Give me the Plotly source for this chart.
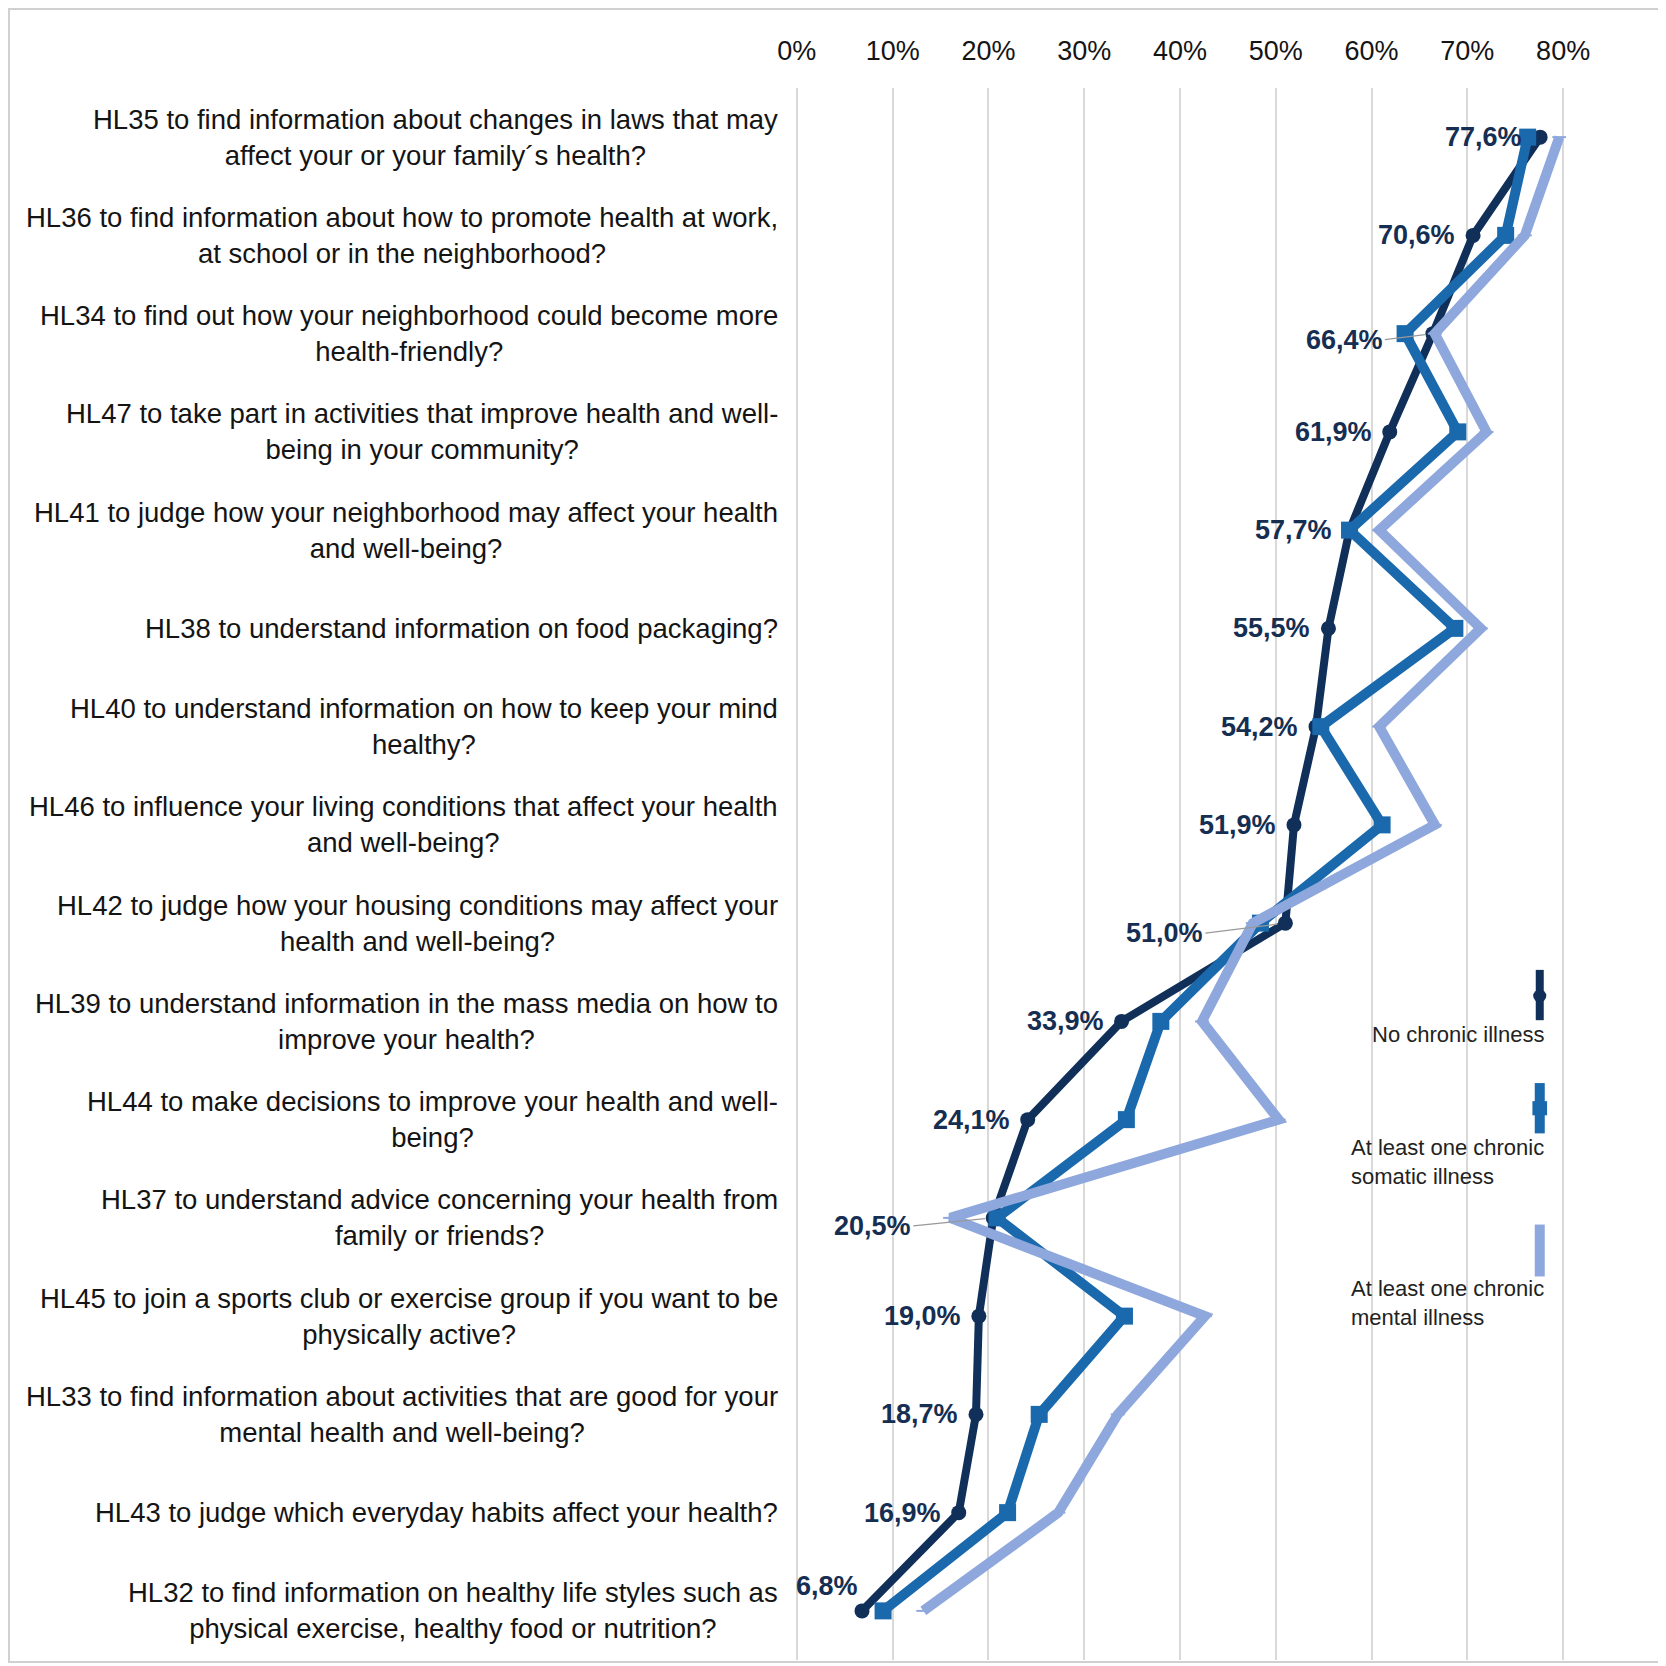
import plotly.graph_objects as go

codes = ["HL35", "HL36", "HL34", "HL47", "HL41", "HL38", "HL40", "HL46",
         "HL42", "HL39", "HL44", "HL37", "HL45", "HL33", "HL43", "HL32"]
questions = [
    "HL35 to find information about changes in laws that may<br>affect your or your family\u00b4s health?",
    "HL36 to find information about how to promote health at work,<br>at school or in the neighborhood?",
    "HL34 to find out how your neighborhood could become more<br>health-friendly?",
    "HL47 to take part in activities that improve health and well-<br>being in your community?",
    "HL41 to judge how your neighborhood may affect your health<br>and well-being?",
    "HL38 to understand information on food packaging?",
    "HL40 to understand information on how to keep your mind<br>healthy?",
    "HL46 to influence your living conditions that affect your health<br>and well-being?",
    "HL42 to judge how your housing conditions may affect your<br>health and well-being?",
    "HL39 to understand information in the mass media on how to<br>improve your health?",
    "HL44 to make decisions to improve your health and well-<br>being?",
    "HL37 to understand advice concerning your health from<br>family or friends?",
    "HL45 to join a sports club or exercise group if you want to be<br>physically active?",
    "HL33 to find information about activities that are good for your<br>mental health and well-being?",
    "HL43 to judge which everyday habits affect your health?",
    "HL32 to find information on healthy life styles such as<br>physical exercise, healthy food or nutrition?",
]

no_chronic = [77.6, 70.6, 66.4, 61.9, 57.7, 55.5, 54.2, 51.9,
              51.0, 33.9, 24.1, 20.5, 19.0, 18.7, 16.9, 6.8]
somatic = [76.3, 74.0, 63.5, 69.0, 57.7, 68.7, 54.7, 61.1,
           48.4, 38.0, 34.4, 20.9, 34.2, 25.3, 22.0, 9.0]
mental = [79.6, 76.0, 66.6, 72.0, 60.8, 71.4, 60.8, 66.6,
          47.6, 42.3, 50.3, 16.0, 42.6, 33.5, 27.3, 13.2]

x_ticks = [0, 10, 20, 30, 40, 50, 60, 70, 80]
x_ticktext = [f"{t}%" for t in x_ticks]

legend_names = ["No chronic illness",
                "At least one chronic<br>somatic illness",
                "At least one chronic<br>mental illness"]

NAVY = "#10305a"
MID = "#1a69ad"
LIGHT = "#8ea7dc"
FONT = "Liberation Sans, Arial, sans-serif"

fig = go.Figure()

fig.add_trace(go.Scatter(
    x=no_chronic, y=codes, mode="lines+markers", name=legend_names[0],
    line=dict(color=NAVY, width=8),
    marker=dict(symbol="circle", size=15, color=NAVY),
    showlegend=False,
))
fig.add_trace(go.Scatter(
    x=somatic, y=codes, mode="lines+markers", name=legend_names[1],
    line=dict(color=MID, width=10),
    marker=dict(symbol="square", size=17, color=MID),
    showlegend=False,
))
fig.add_trace(go.Scatter(
    x=mental, y=codes, mode="lines+markers", name=legend_names[2],
    line=dict(color=LIGHT, width=10),
    marker=dict(symbol="line-ew-open", size=10, color=LIGHT,
                line=dict(color=LIGHT, width=2)),
    showlegend=False,
))

annotations = []

# question texts, centred lines, right edge at the axis
for c, q in zip(codes, questions):
    annotations.append(dict(
        x=0, xref="paper", y=c, yref="y", text=q, showarrow=False,
        xanchor="right", align="center", xshift=-14,
        font=dict(family=FONT, size=27.5, color="#141414"),
    ))

# data labels for the "no chronic illness" line
leader = {"HL34": (-48, 6), "HL42": (-80, 10), "HL37": (-80, 8)}
for c, v in zip(codes, no_chronic):
    txt = f"{v:.1f}".replace(".", ",") + "%"
    lab = dict(x=v, y=c, text="<b>" + txt + "</b>",
               font=dict(family=FONT, size=27, color="#152e52"),
               xanchor="right")
    if c in leader:
        ax, ay = leader[c]
        lab.update(showarrow=True, ax=ax, ay=ay, arrowhead=0, arrowwidth=1.2,
                   arrowcolor="#999999", standoff=8)
    elif c == "HL32":
        lab.update(showarrow=False, xshift=-2, yshift=25)
    else:
        lab.update(showarrow=False, xshift=-16)
    annotations.append(lab)

# hand-drawn legend with vertical line samples
shapes = []
leg_x = 0.966
leg_rows = [(0.439, 0.407, 0.398), (0.367, 0.335, 0.317), (0.277, 0.244, 0.227)]
leg_colors = [NAVY, MID, LIGHT]
for (y0, y1, ty), col, name in zip(leg_rows, leg_colors, legend_names):
    shapes.append(dict(type="line", xref="paper", yref="paper",
                       x0=leg_x, x1=leg_x, y0=y0, y1=y1,
                       line=dict(color=col, width=8 if col == NAVY else 10)))
    annotations.append(dict(
        x=0.974, xref="paper", y=ty, yref="paper", text=name, showarrow=False,
        xanchor="right", yanchor="middle", align="left",
        font=dict(family=FONT, size=22, color="#222222"),
    ))
# legend marker symbols
shapes.append(dict(type="circle", xref="paper", yref="paper",
                   x0=leg_x - 0.0085, x1=leg_x + 0.0085, y0=0.4185, y1=0.4265,
                   fillcolor=NAVY, line=dict(width=0)))
shapes.append(dict(type="rect", xref="paper", yref="paper",
                   x0=leg_x - 0.0095, x1=leg_x + 0.0095, y0=0.3465, y1=0.3555,
                   fillcolor=MID, line=dict(width=0)))

# outer frame
shapes.append(dict(type="rect", xref="paper", yref="paper",
                   x0=-1.0168, x1=1.1256, y0=-0.0013, y1=1.0503,
                   line=dict(color="#d0d0d0", width=2), layer="below"))

fig.update_layout(
    width=1658, height=1658,
    margin=dict(l=786, r=100, t=80, b=6),
    plot_bgcolor="white", paper_bgcolor="white",
    font=dict(family=FONT, color="#141414"),
    xaxis=dict(side="top", range=[-0.3, 80.3], tickvals=x_ticks, ticktext=x_ticktext,
               showgrid=True, gridcolor="#d9d9d9", gridwidth=1.5,
               zeroline=False, showline=False, ticks="",
               tickfont=dict(family=FONT, size=27, color="#141414"),
               ticklabelstandoff=22, fixedrange=True),
    yaxis=dict(categoryorder="array", categoryarray=codes, range=[15.5, -0.5],
               showticklabels=False, showgrid=False, zeroline=False,
               showline=False, ticks="", fixedrange=True),
    annotations=annotations,
    shapes=shapes,
    showlegend=False,
)

fig.write_html("out.html")
